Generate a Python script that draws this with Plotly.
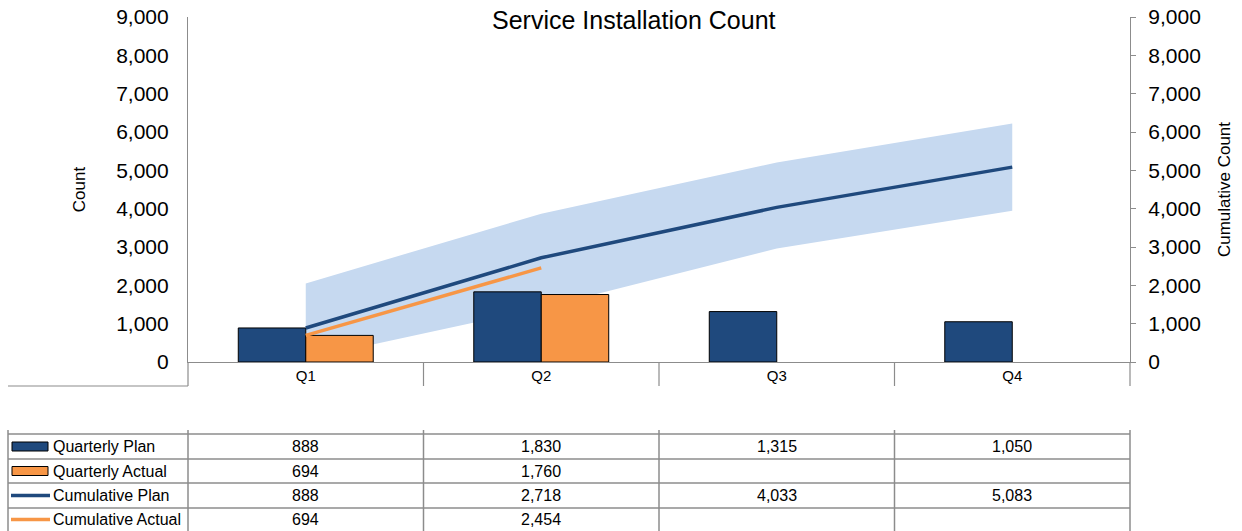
import plotly.graph_objects as go

quarters = ["Q1", "Q2", "Q3", "Q4"]
quarterly_plan = [888, 1830, 1315, 1050]
quarterly_actual = [694, 1760, None, None]
cumulative_plan = [888, 2718, 4033, 5083]
cumulative_actual = [694, 2454, None, None]
band_lower = [80, 1410, 2960, 3945]
band_upper = [2050, 3870, 5205, 6220]
row_labels = ["Quarterly Plan", "Quarterly Actual", "Cumulative Plan", "Cumulative Actual"]

W, H = 1242, 531
L, R, T, B = 188, 1130, 17, 362
PH = B - T

C_PLAN = "#1F497D"
C_ACT = "#F79646"
C_BAND = "#C6D9F0"
C_GRID = "#8C8C8C"
FONT = "Liberation Sans, Arial, sans-serif"


def py(p):
    return (B - p) / PH


def px(p):
    return (p - L) / (R - L)


fig = go.Figure()

# band (lower then upper filled) on the primary subplot (drawn first)
fig.add_trace(go.Scatter(x=quarters, y=band_lower, mode="lines", line=dict(width=0, color=C_BAND),
                         showlegend=False, hoverinfo="skip", yaxis="y"))
fig.add_trace(go.Scatter(x=quarters, y=band_upper, mode="lines", line=dict(width=0, color=C_BAND),
                         fill="tonexty", fillcolor=C_BAND, showlegend=False, hoverinfo="skip", yaxis="y"))

# bars on an overlay subplot (drawn above the band)
fig.add_trace(go.Bar(x=quarters, y=quarterly_plan, name="Quarterly Plan",
                     marker=dict(color=C_PLAN, line=dict(color="black", width=1)), yaxis="y2"))
fig.add_trace(go.Bar(x=quarters, y=quarterly_actual, name="Quarterly Actual",
                     marker=dict(color=C_ACT, line=dict(color="black", width=1)), yaxis="y2"))

# lines on the top overlay (right axis)
fig.add_trace(go.Scatter(x=quarters, y=cumulative_plan, mode="lines", name="Cumulative Plan",
                         line=dict(color=C_PLAN, width=3.5), yaxis="y3"))
fig.add_trace(go.Scatter(x=quarters, y=cumulative_actual, mode="lines", name="Cumulative Actual",
                         line=dict(color=C_ACT, width=3.5), yaxis="y3"))

shapes = []
for xv in [0.5, 1.5, 2.5]:
    shapes.append(dict(type="line", xref="x", yref="paper", x0=xv, x1=xv, y0=0, y1=py(386),
                       line=dict(color=C_GRID, width=1.2)))
for xp in [0, 1]:
    shapes.append(dict(type="line", xref="paper", yref="paper", x0=xp, x1=xp, y0=0, y1=py(386),
                       line=dict(color=C_GRID, width=1.2)))
shapes.append(dict(type="line", xref="paper", yref="paper", x0=px(8), x1=0, y0=py(386), y1=py(386),
                   line=dict(color=C_GRID, width=1.2)))

row_lines = [434, 459, 483, 508]
for r in row_lines:
    shapes.append(dict(type="line", xref="paper", yref="paper", x0=px(8), x1=1, y0=py(r), y1=py(r),
                       line=dict(color=C_GRID, width=1.5)))
for xp in [px(8), 0, 1]:
    shapes.append(dict(type="line", xref="paper", yref="paper", x0=xp, x1=xp, y0=py(430), y1=py(532),
                       line=dict(color=C_GRID, width=1.5)))
for xv in [0.5, 1.5, 2.5]:
    shapes.append(dict(type="line", xref="x", yref="paper", x0=xv, x1=xv, y0=py(430), y1=py(532),
                       line=dict(color=C_GRID, width=1.5)))

row_centers = [446.5, 471, 495.5, 519.5]
shapes.append(dict(type="rect", xref="paper", yref="paper", x0=px(12), x1=px(48), y0=py(451), y1=py(442),
                   fillcolor=C_PLAN, line=dict(color="black", width=1)))
shapes.append(dict(type="rect", xref="paper", yref="paper", x0=px(12), x1=px(48), y0=py(475.5), y1=py(466.5),
                   fillcolor=C_ACT, line=dict(color="black", width=1)))
shapes.append(dict(type="line", xref="paper", yref="paper", x0=px(11), x1=px(50), y0=py(495.5), y1=py(495.5),
                   line=dict(color=C_PLAN, width=3.5)))
shapes.append(dict(type="line", xref="paper", yref="paper", x0=px(11), x1=px(50), y0=py(519.5), y1=py(519.5),
                   line=dict(color=C_ACT, width=3.5)))

annotations = []
series = [quarterly_plan, quarterly_actual, cumulative_plan, cumulative_actual]
for label, vals, yc in zip(row_labels, series, row_centers):
    annotations.append(dict(text=label, xref="paper", yref="paper", x=px(51), y=py(yc), xanchor="left",
                            yanchor="middle", showarrow=False, font=dict(size=16, color="black", family=FONT)))
    for i, v in enumerate(vals):
        if v is None:
            continue
        annotations.append(dict(text=f"{v:,}", xref="x", yref="paper", x=i, y=py(yc), xanchor="center",
                                yanchor="middle", showarrow=False, font=dict(size=16, color="black", family=FONT)))

annotations.append(dict(text="Service Installation Count", xref="paper", yref="paper", x=px(634), y=py(20),
                        xanchor="center", yanchor="middle", showarrow=False,
                        font=dict(size=25, color="black", family=FONT)))

axis_common = dict(range=[0, 9000], dtick=1000, tickformat=",", showgrid=False, zeroline=False, automargin=False)

fig.update_layout(
    width=W, height=H,
    margin=dict(l=L, r=W - R, t=T, b=H - B, autoexpand=False),
    paper_bgcolor="white", plot_bgcolor="white",
    barmode="group", bargap=0.427, bargroupgap=0,
    showlegend=False,
    font=dict(family=FONT, color="black"),
    xaxis=dict(type="category", range=[-0.5, 3.5], showline=True, linecolor=C_GRID, linewidth=1.2,
               showgrid=False, ticks="", tickfont=dict(size=15), zeroline=False, automargin=False),
    yaxis=dict(**axis_common, showline=True, linecolor=C_GRID, linewidth=1.2, ticks="", ticklabelstandoff=14,
               tickfont=dict(size=21), title=dict(text="Count", font=dict(size=17), standoff=26)),
    yaxis2=dict(**axis_common, overlaying="y", visible=False),
    yaxis3=dict(**axis_common, overlaying="y", side="right", showline=True, linecolor=C_GRID, linewidth=1.2,
                ticks="outside", ticklen=5, tickcolor=C_GRID, ticklabelstandoff=8,
                tickfont=dict(size=21), title=dict(text="Cumulative Count", font=dict(size=17), standoff=18)),
    shapes=shapes,
    annotations=annotations,
)

fig.write_html("out.html", config={"displayModeBar": False},
               post_script="document.body.style.margin='0';document.body.style.overflow='hidden';")
